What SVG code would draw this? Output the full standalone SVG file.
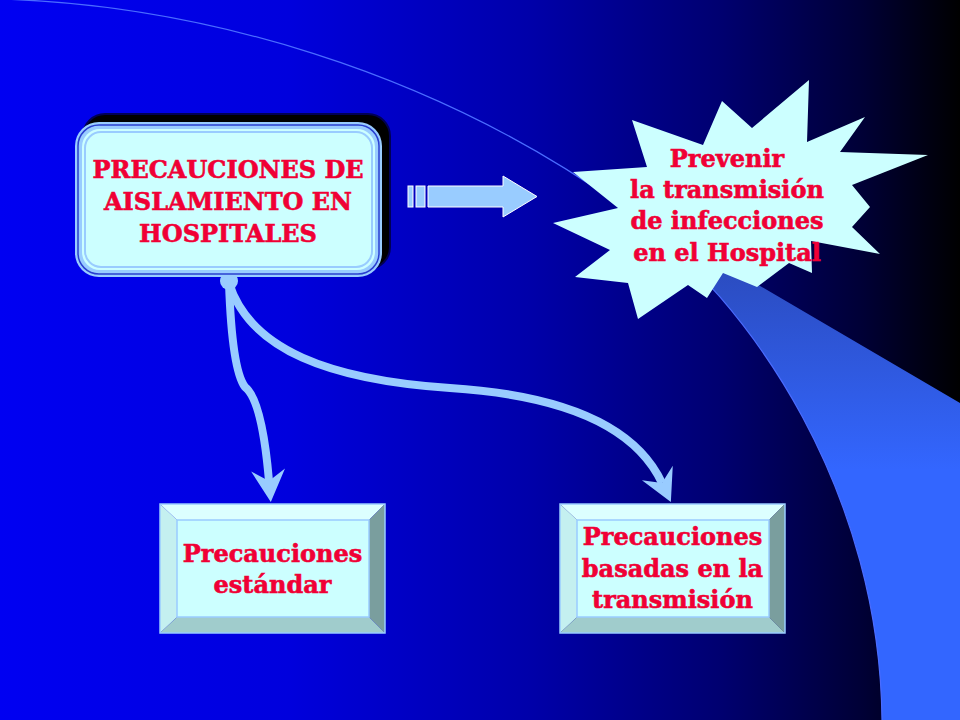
<svg xmlns="http://www.w3.org/2000/svg" width="960" height="720" viewBox="0 0 960 720">
  <defs>
    <linearGradient id="bg" x1="0" y1="0" x2="1" y2="0">
      <stop offset="0" stop-color="#0000f2"/>
      <stop offset="0.3" stop-color="#0000dd"/>
      <stop offset="0.55" stop-color="#0000aa"/>
      <stop offset="0.75" stop-color="#000070"/>
      <stop offset="0.9" stop-color="#000035"/>
      <stop offset="1" stop-color="#000000"/>
    </linearGradient>
    <linearGradient id="sw" gradientUnits="userSpaceOnUse" x1="0" y1="270" x2="0" y2="470">
      <stop offset="0" stop-color="#2b4cc0"/>
      <stop offset="1" stop-color="#3366ff"/>
    </linearGradient>
    <marker id="ah" markerUnits="userSpaceOnUse" orient="auto" refX="0" refY="0" markerWidth="40" markerHeight="40" overflow="visible">
      <path d="M21,0 L-11,-17 L0,0 L-11,17 Z" fill="#99ccff"/>
    </marker>
    <style>
      .t { font-family: "DejaVu Serif", "Liberation Serif", serif; font-weight: bold; font-size: 24px; fill: #f00035; stroke: #f00035; stroke-width: 0.6; text-anchor: middle; }
      .conn { fill: none; stroke: #99ccff; stroke-width: 8; stroke-linecap: butt; marker-end: url(#ah); }
      .face { fill: #ccffff; }
      .bt { fill: #dcffff; }
      .bl { fill: #c4f0f0; }
      .br { fill: #7a9e9e; }
      .bb { fill: #a0cccc; }
      .edge { fill: none; stroke: #99ccff; stroke-width: 1.5; }
    </style>
  </defs>

  <!-- background -->
  <rect x="0" y="0" width="960" height="720" fill="url(#bg)"/>
  <path d="M620,204 C760,305 880,500 882,720 L960,720 L960,403 Z" fill="url(#sw)"/>
  <path d="M0,-1 C200,5 430,70 620,205 C760,305 880,500 882,720" fill="none" stroke="#4a6cff" stroke-width="1.2"/>

  <!-- connectors -->
  <g id="connectors">
    <rect x="408" y="186" width="5" height="21" fill="#99ccff" stroke="#ffffff" stroke-width="1"/>
    <rect x="416" y="186" width="9" height="21" fill="#99ccff" stroke="#ffffff" stroke-width="1"/>
    <polygon points="428,186 503,186 503,176 537,196.5 503,217 503,207 428,207" fill="#99ccff" stroke="#ffffff" stroke-width="1"/>
    <path class="conn" d="M229,283 Q232,370 245,387 Q262,400 269,481"/>
    <path class="conn" d="M229,283 C250,350 330,380 450,388 C560,395 635,425 662,483"/>
    <circle cx="229" cy="281" r="9" fill="#99ccff"/>
  </g>

  <!-- main node -->
  <g id="node-aislamiento">
    <rect x="83" y="114" width="307" height="155" rx="22" fill="#000000" stroke="#000055" stroke-width="2"/>
    <rect x="75" y="122" width="307" height="155" rx="24" fill="#99ccff"/>
    <rect x="78" y="125" width="301" height="149" rx="21" fill="#99ccff" stroke="#2a3fd0" stroke-width="1.5"/>
    <rect x="82" y="129" width="293" height="141" rx="18" fill="#ccffff"/>
    <rect x="85" y="132" width="287" height="135" rx="16" fill="#ccffff" stroke="#99ccff" stroke-width="2"/>
    <text class="t" x="228" y="178">PRECAUCIONES DE</text>
    <text class="t" x="228" y="210">AISLAMIENTO EN</text>
    <text class="t" x="228" y="242">HOSPITALES</text>
  </g>

  <!-- starburst node -->
  <g id="node-prevenir">
    <polygon points="809,80 807,142 865,117 840,152 928,155 852,185 870,207 852,227 880,254 811,241 812,273 789,263 757,287 723,273 707,298 688,285 638,319 628,283 575,277 610,250 553,223 618,208 573,172 647,167 632,120 703,145 722,101 752,128" fill="#ccffff"/>
    <text class="t" x="727" y="167">Prevenir</text>
    <text class="t" x="727" y="198">la transmisión</text>
    <text class="t" x="727" y="229">de infecciones</text>
    <text class="t" x="727" y="261">en el Hospital</text>
  </g>

  <!-- bottom left node -->
  <g id="node-estandar">
    <polygon class="bt" points="160,504 385,504 369,520 177,520"/>
    <polygon class="bl" points="160,504 177,520 177,617 160,633"/>
    <polygon class="br" points="385,504 385,633 369,617 369,520"/>
    <polygon class="bb" points="160,633 177,617 369,617 385,633"/>
    <rect class="face" x="177" y="520" width="192" height="97"/>
    <rect class="edge" x="160" y="504" width="225" height="129"/>
    <rect class="edge" x="177" y="520" width="192" height="97" stroke-width="1"/>
    <text class="t" x="272.5" y="562">Precauciones</text>
    <text class="t" x="272.5" y="593">estándar</text>
  </g>

  <!-- bottom right node -->
  <g id="node-transmision">
    <polygon class="bt" points="560,504 785,504 769,520 577,520"/>
    <polygon class="bl" points="560,504 577,520 577,617 560,633"/>
    <polygon class="br" points="785,504 785,633 769,617 769,520"/>
    <polygon class="bb" points="560,633 577,617 769,617 785,633"/>
    <rect class="face" x="577" y="520" width="192" height="97"/>
    <rect class="edge" x="560" y="504" width="225" height="129"/>
    <rect class="edge" x="577" y="520" width="192" height="97" stroke-width="1"/>
    <text class="t" x="672.5" y="545">Precauciones</text>
    <text class="t" x="672.5" y="577">basadas en la</text>
    <text class="t" x="672.5" y="608">transmisión</text>
  </g>
</svg>
